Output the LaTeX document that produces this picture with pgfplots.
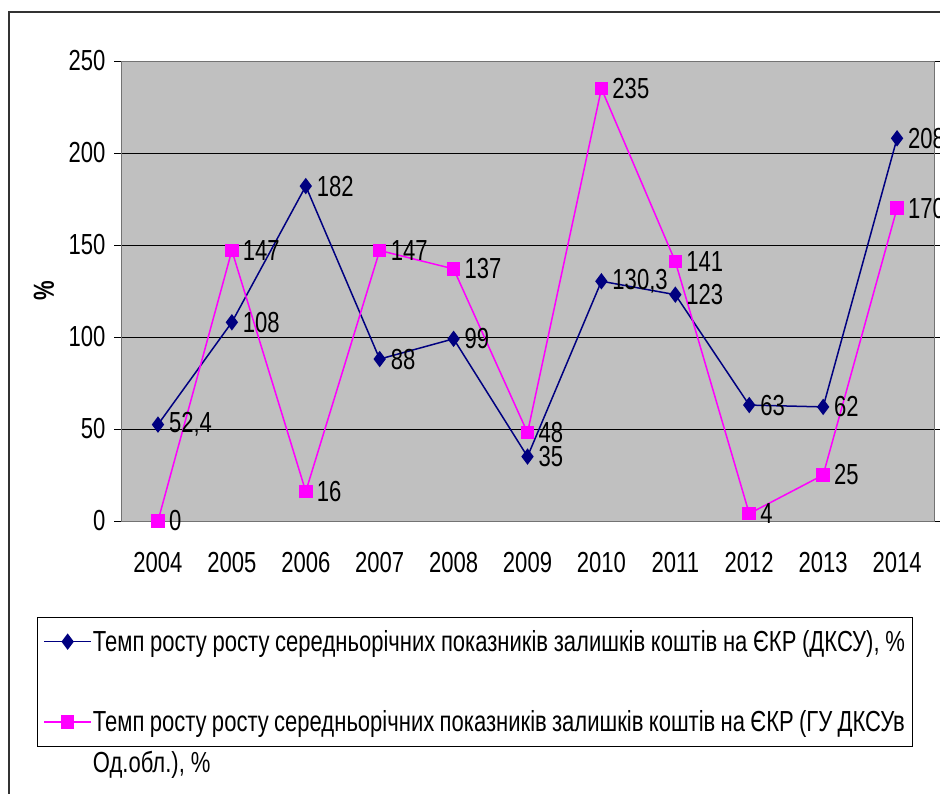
\documentclass[border=0pt]{standalone}
\usepackage{fontspec}
\setmainfont[FakeStretch=0.76]{Liberation Sans}
\usepackage{pgfplots}
\pgfplotsset{compat=1.18}
\definecolor{navyc}{RGB}{0,0,128}
\definecolor{magc}{RGB}{255,0,255}
\definecolor{plotgray}{RGB}{192,192,192}
\newcommand{\lbl}{\fontsize{29bp}{33bp}\selectfont}
\begin{document}
\begin{tikzpicture}[x=1bp,y=1bp]
\useasboundingbox (0,0) rectangle (940,794);
\draw[line width=1.5bp, black!80] (9,-5) -- (9,782) -- (945,782);
\begin{axis}[
  at={(121bp,273bp)}, anchor=south west,
  scale only axis, width=813bp, height=460bp,
  xmin=-0.5, xmax=10.5, ymin=0, ymax=250,
  clip=false,
  axis background/.style={fill=plotgray},
  axis line style={draw=black!55},
  /pgf/number format/assume math mode=true,
  xtick={0,...,10},
  xticklabels={2004,2005,2006,2007,2008,2009,2010,2011,2012,2013,2014},
  major x tick style={draw=none},
  extra x ticks={-0.5,0.5,1.5,2.5,3.5,4.5,5.5,6.5,7.5,8.5,9.5,10.5},
  extra x tick labels={},
  extra x tick style={major tick length=7bp, tick align=outside, tick style={black, line width=0.8bp}},
  ytick={0,50,...,250},
  tick align=outside,
  major tick length=7bp,
  y tick style={black, line width=0.8bp},
  ymajorgrids,
  grid style={black, line width=0.8bp},
  tick label style={font=\lbl, black},
  xticklabel style={yshift=-21bp},
  yticklabel style={xshift=-5bp},
  ylabel={\%},
  ylabel style={font=\lbl\bfseries, at={(axis description cs:-0.078,0.5)}, rotate=0},
  every node near coord/.style={anchor=west, xshift=7bp, black, font=\lbl},
  legend style={at={(-0.1033,-0.2087)}, anchor=north west, draw=black, line width=0.8bp, fill=white,
    font=\fontsize{29bp}{41bp}\selectfont,
    nodes={text width=812bp, align=justify, inner sep=1bp, line width=0.8bp},
    row sep=56bp, inner xsep=6bp, inner ysep=12bp},
  legend cell align=left,
  legend image code/.code={
    \draw[mark repeat=2,mark phase=2,#1] plot coordinates {(0bp,0bp) (23.5bp,0bp) (47bp,0bp)};
  },
]
\addplot[navyc, line width=1.5bp, mark=diamond*, mark size=7bp, mark options={fill=navyc, solid},
  nodes near coords, point meta=explicit symbolic]
  table[meta=lab] {
x y lab
0 52.4 52,4
1 108 108
2 182 182
3 88 88
4 99 99
5 35 35
6 130.3 130,3
7 123 123
8 63 63
9 62 62
10 208 208
};
\addlegendentry{Темп росту росту середньорічних показників залишків коштів на ЄКР (ДКСУ), \%}
\addplot[magc, line width=1.5bp, mark=square*, mark size=6bp, mark options={fill=magc, solid},
  nodes near coords, point meta=explicit symbolic]
  table[meta=lab] {
x y lab
0 0 0
1 147 147
2 16 16
3 147 147
4 137 137
5 48 48
6 235 235
7 141 141
8 4 4
9 25 25
10 170 170
};
\addlegendentry{Темп росту росту середньорічних показників залишків коштів на ЄКР (ГУ ДКСУв Од.обл.), \%}
\end{axis}
\end{tikzpicture}
\end{document}
